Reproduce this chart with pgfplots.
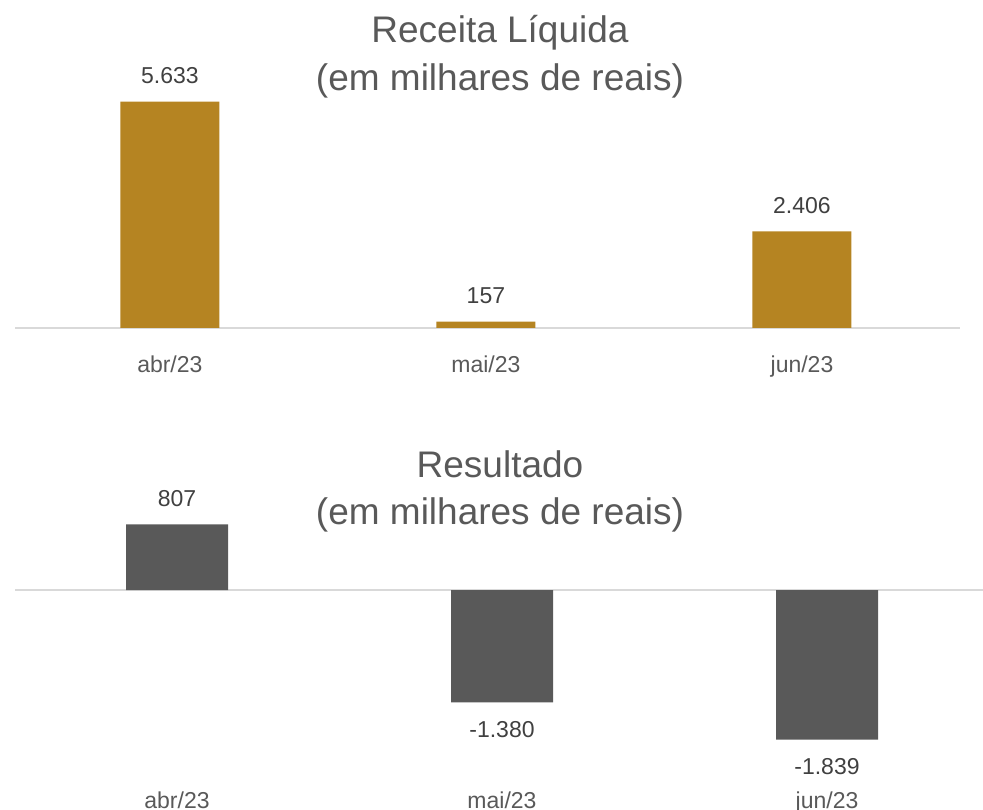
\documentclass[border=0pt]{standalone}
\usepackage{pgfplots}
\pgfplotsset{compat=1.18}
\usepackage{fontspec}
\setmainfont{Liberation Sans}
\definecolor{gold}{RGB}{181,132,34}
\definecolor{barGray}{RGB}{89,89,89}
\definecolor{txtGray}{RGB}{89,89,89}
\definecolor{lblGray}{RGB}{64,64,64}
\definecolor{lineGray}{RGB}{217,217,217}
\begin{document}
\begin{tikzpicture}
\useasboundingbox (0pt,0pt) rectangle (983pt,810pt);
\pgfplotsset{
  mybars/.style={
    scale only axis, clip=false,
    axis line style={draw=none},
    tick style={draw=none},
    ytick=\empty,
    xtick={0,1,2},
    xticklabels={abr/23,mai/23,jun/23},
    xticklabel style={anchor=base, yshift=-40pt, font=\fontsize{23}{27}\selectfont, text=txtGray},
    extra y ticks={0},
    extra y tick labels={},
    extra y tick style={grid=major, tick style={draw=none}},
    major grid style={draw=lineGray, line width=1.5pt},
    ybar, bar shift=0pt,
    nodes near coords,
    every node near coord/.append style={font=\fontsize{23}{27}\selectfont, text=lblGray,
      text height=16.5pt, text depth=0pt, inner xsep=0pt, inner ysep=18pt},
    /pgf/number format/.cd, fixed, precision=0, 1000 sep={.}, assume math mode=true,
  }
}
\begin{axis}[mybars,
  at={(15pt,482pt)}, anchor=south west,
  width=945pt, height=241.2pt,
  xmin=-0.49, xmax=2.5, ymin=0, ymax=6000,
  bar width=99pt]
\addplot[fill=gold, draw=none] coordinates {(0,5633) (1,157) (2,2406)};
\end{axis}
\begin{axis}[mybars,
  at={(15pt,46pt)}, anchor=south west,
  width=968pt, height=263.5pt,
  xmin=-0.4985, xmax=2.48, ymin=-2137, ymax=1100,
  bar width=102pt]
\addplot[fill=barGray, draw=none] coordinates {(0,807) (1,-1380) (2,-1839)};
\end{axis}
\node[anchor=base, text=txtGray, font=\fontsize{37}{44}\selectfont] at (500pt,767.3pt) {Receita Líquida};
\node[anchor=base, text=txtGray, font=\fontsize{37}{44}\selectfont] at (500pt,719.5pt) {(em milhares de reais)};
\node[anchor=base, text=txtGray, font=\fontsize{37}{44}\selectfont] at (500pt,332.7pt) {Resultado};
\node[anchor=base, text=txtGray, font=\fontsize{37}{44}\selectfont] at (500pt,285.7pt) {(em milhares de reais)};
\end{tikzpicture}
\end{document}
